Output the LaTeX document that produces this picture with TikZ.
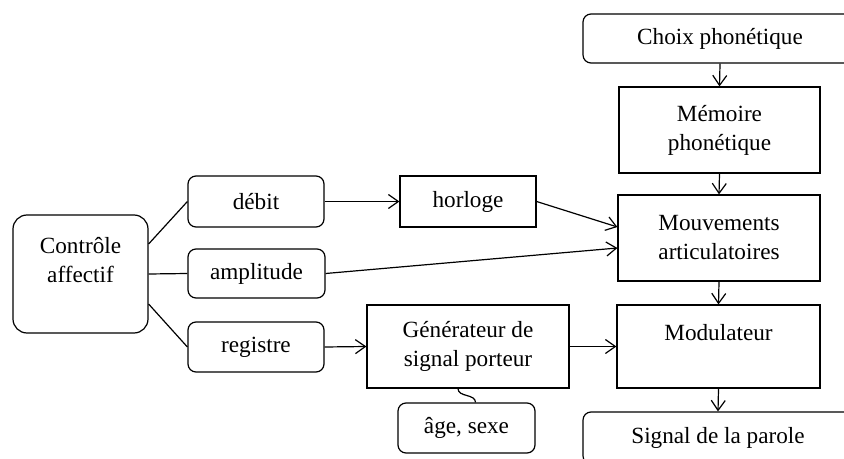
\documentclass[tikz,border=0pt]{standalone}
\usepackage{fontspec}
\setmainfont{Liberation Serif}
\usetikzlibrary{arrows.meta, positioning}

\begin{document}
\begin{tikzpicture}[
            x=0.5pt, y=-0.5pt,
            font=\fontsize{11.6}{14.5}\selectfont,
            rbox/.style={draw, rounded corners=4pt, line width=0.6pt, align=center, inner sep=2pt},
            sbox/.style={draw, line width=0.6pt, align=center, inner sep=2pt},
            link/.style={line width=0.6pt},
            flow/.style={link, -{Straight Barb[length=5pt, width=7pt]}}
        ]
        \useasboundingbox (0,0) rectangle (844,459);

        % Left part
        \node[rbox, rounded corners=7pt, minimum width=67.5pt, minimum height=59pt] (ctrl) at (80.5,274) {Contrôle\\affectif\\\mbox{}};
        \node[rbox, minimum width=68pt, minimum height=25.5pt] (debit) at (256,201.5) {débit};
        \node[rbox, minimum width=68.5pt, minimum height=24.5pt] (ampl) at (256.5,273.5) {amplitude};
        \node[rbox, minimum width=68pt, minimum height=25pt] (reg) at (256,347) {registre};

        % Middle part
        \node[sbox, minimum width=68pt, minimum height=25.5pt] (horl) at (468,201.5) {horloge};
        \node[sbox, minimum width=101pt, minimum height=41.5pt] (gen) at (468,346.5) {Générateur de\\signal porteur};
        \node[rbox, minimum width=68.5pt, minimum height=25pt] (age) at (466.5,428) {âge, sexe};

        % Right column
        \node[rbox, minimum width=137pt, minimum height=24.5pt] (choix) at (720,38.5) {Choix phonétique};
        \node[sbox, minimum width=100.5pt, minimum height=43pt] (mem) at (719.5,130) {Mémoire\\phonétique};
        \node[sbox, minimum width=101pt, minimum height=43pt] (mouv) at (719,238) {Mouvements\\articulatoires};
        \node[sbox, minimum width=101.5pt, minimum height=41.5pt] (modul) at (718.5,346.5) {Modulateur\\\mbox{}};
        \node[rbox, minimum width=135pt, minimum height=26pt] (sig) at (718,438) {Signal de la parole};

        % Connectors
        \draw[link] ([yshift=15pt]ctrl.east) -- (debit.west);
        \draw[link] (ctrl.east) -- (ampl.west);
        \draw[link] ([yshift=-15pt]ctrl.east) -- (reg.west);

        \draw[flow] (debit.east) -- (horl.west);
        \draw[flow] (horl.east) -- ([yshift=5.5pt]mouv.west);
        \draw[flow] (ampl.east) -- ([yshift=-5pt]mouv.west);
        \draw[flow] (reg.east) -- (gen.west);
        \draw[flow] (gen.east) -- (modul.west);
        \draw[link] ([xshift=-5pt]gen.south) to[out=-90, in=90] ([xshift=4.5pt]age.north);

        \draw[flow] (choix.south) -- (mem.north);
        \draw[flow] (mem.south) -- (mouv.north);
        \draw[flow] (mouv.south) -- (modul.north);
        \draw[flow] (modul.south) -- (sig.north);

    \end{tikzpicture}
\end{document}
